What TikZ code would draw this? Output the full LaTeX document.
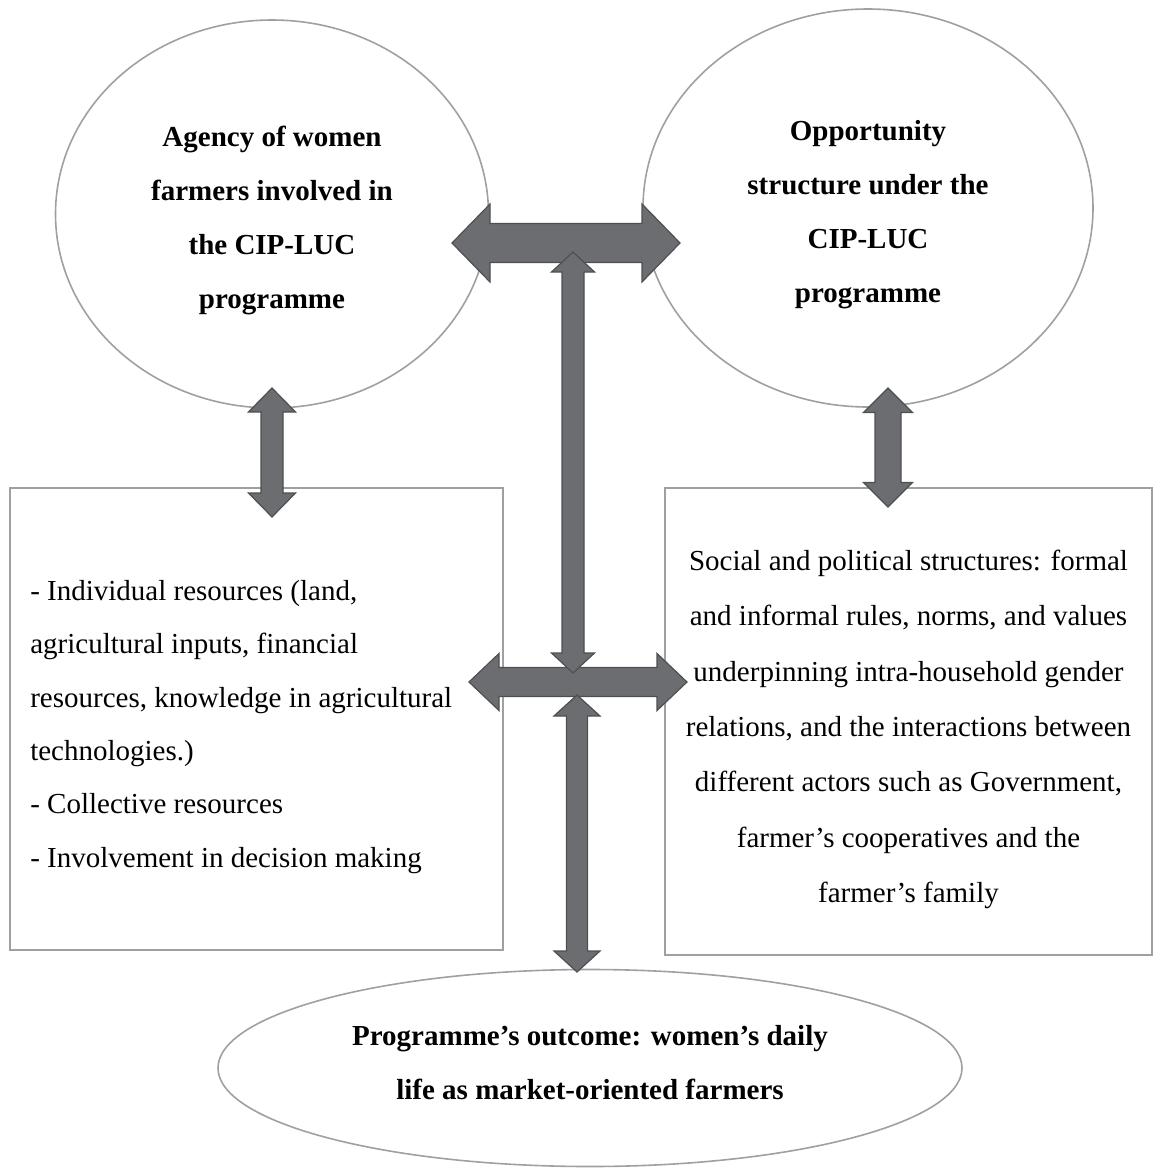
\documentclass[tikz,border=0pt]{standalone}
\usepackage{fontspec}
\setmainfont{Liberation Serif}
\usepackage{tikz}
\usetikzlibrary{shapes.geometric}
\definecolor{outlinegray}{RGB}{160,160,160}
\definecolor{arrowfill}{RGB}{108,109,113}
\definecolor{arrowedge}{RGB}{78,79,82}
\tikzset{
  headl/.store in=\headl, headw/.store in=\headw, shaftw/.store in=\shaftw,
  headl=24, headw=24, shaftw=11,
}

\begin{document}
\begin{tikzpicture}[x=1pt, y=-1pt,
			circ/.style={ellipse, draw=outlinegray, line width=1.6pt, fill=white},
			box/.style={rectangle, draw=outlinegray, line width=1.8pt, fill=white},
			boldtext/.style={align=center, inner sep=0pt, font={\fontsize{29}{54}\selectfont\bfseries}},
			plaintext/.style={inner sep=0pt, font={\fontsize{29}{53.3}\selectfont}},
			harrow/.style={draw=arrowedge, fill=arrowfill, line width=1.2pt, line join=miter,
				to path={-- ([shift={(\headl,-\headw)}]\tikztostart) -- ([shift={(\headl,-\shaftw)}]\tikztostart)
					-- ([shift={(-\headl,-\shaftw)}]\tikztotarget) -- ([shift={(-\headl,-\headw)}]\tikztotarget)
					-- (\tikztotarget) -- ([shift={(-\headl,\headw)}]\tikztotarget) -- ([shift={(-\headl,\shaftw)}]\tikztotarget)
					-- ([shift={(\headl,\shaftw)}]\tikztostart) -- ([shift={(\headl,\headw)}]\tikztostart) -- cycle}},
			varrow/.style={draw=arrowedge, fill=arrowfill, line width=1.2pt, line join=miter,
				to path={-- ([shift={(\headw,\headl)}]\tikztostart) -- ([shift={(\shaftw,\headl)}]\tikztostart)
					-- ([shift={(\shaftw,-\headl)}]\tikztotarget) -- ([shift={(\headw,-\headl)}]\tikztotarget)
					-- (\tikztotarget) -- ([shift={(-\headw,-\headl)}]\tikztotarget) -- ([shift={(-\shaftw,-\headl)}]\tikztotarget)
					-- ([shift={(-\shaftw,\headl)}]\tikztostart) -- ([shift={(-\headw,\headl)}]\tikztostart) -- cycle}},
			]
			\useasboundingbox (0,0) rectangle (1152,1173);
			% the two circles
			\node[circ, minimum width=433pt, minimum height=388pt] (agency) at (272,214) {};
			\node[circ, minimum width=450pt, minimum height=398pt] (oppo) at (868,208) {};
			\node[boldtext] (agency-text) at ([yshift=-6pt]agency.center) {Agency of women\\farmers involved in\\the CIP-LUC\\programme};
			\node[boldtext] (oppo-text) at ([yshift=-7pt]oppo.center) {Opportunity\\structure under the\\CIP-LUC\\programme};
			% the two boxes
			\node[box, minimum width=493pt, minimum height=462pt] (indiv) at (256.5,719) {};
			\node[box, minimum width=487pt, minimum height=467pt] (social) at (908.5,721.5) {};
			\node[plaintext, align=flush left, anchor=west] (indiv-text) at ([xshift=21pt, yshift=-8pt]indiv.west) {- Individual resources (land,\\agricultural inputs, financial\\resources, knowledge in agricultural\\technologies.)\\- Collective resources\\- Involvement in decision making};
			\node[plaintext, align=center, font={\fontsize{29}{55.3}\selectfont}] (social-text) at ([yshift=-8pt]social.center) {Social and political structures: formal\\and informal rules, norms, and values\\underpinning intra-household gender\\relations, and the interactions between\\different actors such as Government,\\farmer's cooperatives and the\\farmer's family};
			% outcome
			\node[circ, minimum width=744pt, minimum height=197pt] (outcome) at (590,1068) {};
			\node[boldtext] (outcome-text) at ([yshift=5pt]outcome.center) {Programme's outcome: women's daily\\life as market-oriented farmers};
			% arrow ends
			\coordinate (agency-e) at (452,243);
			\coordinate (oppo-w) at (680,243);
			\coordinate (indiv-e) at (469,682);
			\coordinate (social-w) at (687,682);
			\coordinate (up-top) at (573,252);
			\coordinate (up-bot) at (573,673);
			\coordinate (low-top) at (577,695);
			\coordinate (outcome-n) at (577,972);
			\coordinate (agency-s) at (272,388);
			\coordinate (indiv-n) at (272,517);
			\coordinate (oppo-s) at (888,388);
			\coordinate (social-n) at (888,507);
			\draw[harrow, headl=38, headw=39, shaftw=19.5] (agency-e) to (oppo-w);
			\draw[harrow, headl=30, headw=28.5, shaftw=14.5] (indiv-e) to (social-w);
			\draw[varrow, headl=20, headw=21.5, shaftw=11] (up-top) to (up-bot);
			\draw[varrow, headl=21, headw=23, shaftw=10.5] (low-top) to (outcome-n);
			\draw[varrow, headl=24, headw=23.5, shaftw=11] (agency-s) to (indiv-n);
			\draw[varrow, headl=24.5, headw=24.5, shaftw=13] (oppo-s) to (social-n);
		\end{tikzpicture}
\end{document}
